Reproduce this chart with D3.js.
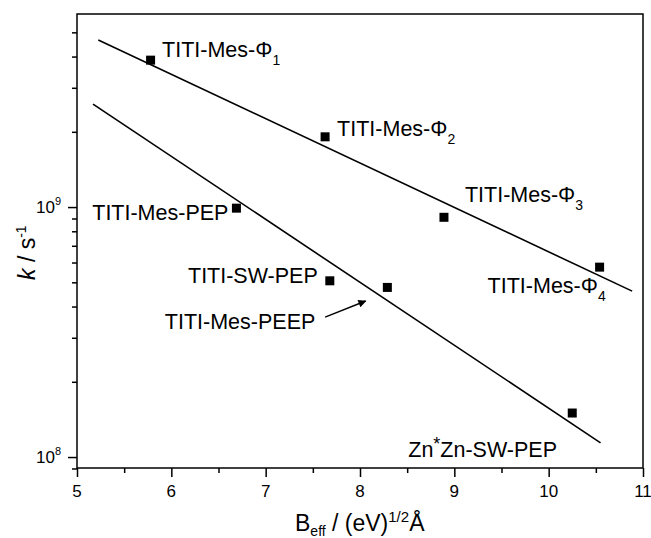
<!DOCTYPE html>
<html>
<head>
<meta charset="utf-8">
<title>k vs Beff</title>
<script src="https://d3js.org/d3.v7.min.js"></script>
<style>
  body { margin: 0; background: white; }
  svg { display: block; }
  text { font-family: "Liberation Sans", Arial, sans-serif; fill: black; }
</style>
</head>
<body>
<script>
// values
var names = ["TITI-Mes-Φ1", "TITI-Mes-Φ2", "TITI-Mes-PEP", "TITI-Mes-Φ3",
             "TITI-Mes-Φ4", "TITI-SW-PEP", "TITI-Mes-PEEP", "Zn*Zn-SW-PEP"];
var bEff = [5.78, 7.63, 6.69, 8.89, 10.54, 7.68, 8.29, 10.25];
var kRate = [3.87e9, 1.91e9, 0.99e9, 9.1e8, 5.75e8, 5.07e8, 4.77e8, 1.5e8];

// the two fitted lines (end points)
var fitUpperX = [5.226, 10.885];
var fitUpperY = [4.66e9, 4.61e8];
var fitLowerX = [5.17, 10.55];
var fitLowerY = [2.58e9, 1.14e8];

// arrow pointing to TITI-Mes-PEEP
var arrowX = [7.63, 8.06];
var arrowY = [3.63e8, 4.21e8];

var xTicks = [5, 6, 7, 8, 9, 10, 11];
var xMinorTicks = [5.5, 6.5, 7.5, 8.5, 9.5, 10.5];
var yTicks = [1e8, 1e9];
var yTickExp = ["8", "9"];
var yMinorTicks = [9e7, 2e8, 3e8, 4e8, 5e8, 6e8, 7e8, 8e8, 9e8, 2e9, 3e9, 4e9, 5e9];

var width = 651, height = 538;
var mLeft = 77, mRight = 643, mTop = 14, mBottom = 468;

var svg = d3.select("body").append("svg")
  .attr("width", width).attr("height", height);

var x = d3.scaleLinear().domain([5, 11]).range([mLeft, mRight]);
var y = d3.scaleLog().domain([9.04e7, 5.92e9]).range([mBottom, mTop]);

// frame
svg.append("rect")
  .attr("x", mLeft).attr("y", mTop)
  .attr("width", mRight - mLeft).attr("height", mBottom - mTop)
  .attr("fill", "none").attr("stroke", "black").attr("stroke-width", 1.5);

// x axis
var xAxis = svg.append("g").attr("transform", "translate(0," + mBottom + ")");
xAxis.call(d3.axisBottom(x).tickValues(xTicks).tickSize(9).tickFormat(""));
xAxis.append("g").call(d3.axisBottom(x).tickValues(xMinorTicks).tickSize(5).tickFormat(""));
xAxis.selectAll(".domain").remove();
xAxis.selectAll("line").attr("stroke", "black").attr("stroke-width", 1.5);

svg.selectAll(".xlab").data(xTicks).enter().append("text")
  .attr("x", function(d) { return x(d); })
  .attr("y", 497)
  .attr("text-anchor", "middle")
  .style("font-size", "17px")
  .text(function(d) { return d; });

// y axis
var yAxis = svg.append("g").attr("transform", "translate(" + mLeft + ",0)");
yAxis.call(d3.axisLeft(y).tickValues(yTicks).tickSize(9).tickFormat(""));
yAxis.append("g").call(d3.axisLeft(y).tickValues(yMinorTicks).tickSize(5).tickFormat(""));
yAxis.selectAll(".domain").remove();
yAxis.selectAll("line").attr("stroke", "black").attr("stroke-width", 1.5);

var ylab = svg.selectAll(".ylab").data(yTicks).enter().append("text")
  .attr("x", 61)
  .attr("y", function(d) { return y(d) + 6; })
  .attr("text-anchor", "end")
  .style("font-size", "17px");
ylab.append("tspan").text("10");
ylab.append("tspan")
  .attr("dy", -8).style("font-size", "11px")
  .text(function(d, i) { return yTickExp[i]; });

// fit lines
var line = d3.line()
  .x(function(d) { return x(d[0]); })
  .y(function(d) { return y(d[1]); });

svg.append("path")
  .attr("d", line(d3.zip(fitUpperX, fitUpperY)))
  .attr("fill", "none").attr("stroke", "black").attr("stroke-width", 1.6);
svg.append("path")
  .attr("d", line(d3.zip(fitLowerX, fitLowerY)))
  .attr("fill", "none").attr("stroke", "black").attr("stroke-width", 1.6);

// markers
var points = d3.zip(bEff, kRate);
svg.selectAll(".pt").data(points).enter().append("rect")
  .attr("x", function(d) { return x(d[0]) - 4.5; })
  .attr("y", function(d) { return y(d[1]) - 4.5; })
  .attr("width", 9).attr("height", 9)
  .attr("fill", "black");

// labels, placed relative to their point
var labelPos = [
  { dx: 11.5, dy: -3, anchor: "start" },
  { dx: 12, dy: -1, anchor: "start" },
  { dx: -8, dy: 12, anchor: "end" },
  { dx: 21, dy: -15, anchor: "start" },
  { dx: -112, dy: 26, anchor: "start" },
  { dx: -12, dy: 2, anchor: "end" },
  { dx: -72, dy: 42, anchor: "end" },
  { dx: -164, dy: 44, anchor: "start" }
];

points.forEach(function(p, i) {
  var pos = labelPos[i];
  var t = svg.append("text")
    .attr("x", x(p[0]) + pos.dx)
    .attr("y", y(p[1]) + pos.dy)
    .attr("text-anchor", pos.anchor)
    .style("font-size", "21.5px");
  var name = names[i];
  var m = name.match(/^(.*Φ)(\d)$/);
  if (m) {
    t.append("tspan").text(m[1]);
    t.append("tspan").attr("dy", 8).style("font-size", "14px").text(m[2]);
  } else if (name.indexOf("*") > 0) {
    var parts = name.split("*");
    t.append("tspan").text(parts[0]);
    t.append("tspan").attr("dy", -7).style("font-size", "18px").text("*");
    t.append("tspan").attr("dy", 7).text(parts[1]);
  } else {
    t.text(name);
  }
});

// arrow
svg.append("defs").append("marker")
  .attr("id", "head")
  .attr("viewBox", "0 0 10 10")
  .attr("refX", 9).attr("refY", 5)
  .attr("markerWidth", 11).attr("markerHeight", 8)
  .attr("markerUnits", "userSpaceOnUse")
  .attr("orient", "auto")
  .append("path").attr("d", "M0,0 L10,5 L0,10 Z").attr("fill", "black");

svg.append("path")
  .attr("d", line(d3.zip(arrowX, arrowY)))
  .attr("stroke", "black").attr("stroke-width", 1.5)
  .attr("marker-end", "url(#head)");

// axis titles
var xt = svg.append("text")
  .attr("x", 295).attr("y", 531)
  .style("font-size", "23px");
xt.append("tspan").text("B");
xt.append("tspan").attr("dy", 5).style("font-size", "14px").text("eff");
xt.append("tspan").attr("dy", -5).text(" / (eV)");
xt.append("tspan").attr("dy", -9).style("font-size", "15px").text("1/2");
xt.append("tspan").attr("dy", 9).text("Å");

var yt = svg.append("text")
  .attr("transform", "translate(35,280) rotate(-90)")
  .style("font-size", "23px");
yt.append("tspan").style("font-style", "italic").text("k");
yt.append("tspan").text(" / s");
yt.append("tspan").attr("dy", -9).style("font-size", "14px").text("-1");
</script>
</body>
</html>
